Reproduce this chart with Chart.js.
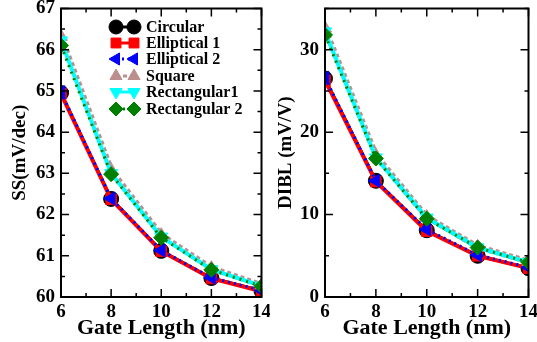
<!DOCTYPE html>
<html>
<head>
<meta charset="utf-8">
<script src="https://cdn.jsdelivr.net/npm/chart.js@4/dist/chart.umd.min.js"></script>
<style>
  html, body { margin: 0; padding: 0; background: #fff; }
  #wrap { position: relative; width: 537px; height: 342px; overflow: hidden; }
  .box { position: absolute; top: 0; height: 342px; }
  #boxL { left: 0; width: 270px; }
  #boxR { left: 270px; width: 267px; }
</style>
</head>
<body>
<div id="wrap">
  <div class="box" id="boxL"><canvas id="ssChart"></canvas></div>
  <div class="box" id="boxR"><canvas id="diblChart"></canvas></div>
</div>
<script>
// gate length (nm)
const gateLength = [6, 8, 10, 12, 14];

// subthreshold swing, mV/dec
const ssCircular = [64.95, 62.38, 61.12, 60.46, 60.15];
const ssElliptical1 = [64.93, 62.37, 61.11, 60.45, 60.14];
const ssElliptical2 = [64.97, 62.39, 61.13, 60.47, 60.16];
const ssSquare = [66.32, 63.08, 61.50, 60.70, 60.29];
const ssRect1 = [66.22, 63.00, 61.46, 60.67, 60.27];
const ssRect2 = [66.10, 62.98, 61.44, 60.66, 60.26];

// DIBL, mV/V
const diblCircular = [26.5, 14.1, 8.1, 5.0, 3.5];
const diblElliptical1 = [26.3, 14.0, 8.0, 5.0, 3.5];
const diblElliptical2 = [26.6, 14.1, 8.2, 5.1, 3.6];
const diblSquare = [32.6, 17.2, 9.7, 6.1, 4.3];
const diblRect1 = [32.2, 16.9, 9.6, 6.0, 4.2];
const diblRect2 = [31.8, 16.8, 9.5, 6.0, 4.2];

const seriesNames = ['Circular', 'Elliptical 1', 'Elliptical 2', 'Square', 'Rectangular1', 'Rectangular 2'];

const FONT = 'Liberation Serif, Times New Roman, serif';

const styles = [
  { color: '#000000', point: 'circle', rot: 0, width: 3, dash: [], order: 6 },
  { color: '#ff0000', point: 'rect', rot: 0, width: 4, dash: [], order: 5 },
  { color: '#0000ff', point: 'triangle', rot: -90, width: 3, dash: [2, 4], order: 4 },
  { color: '#bc8f8f', point: 'triangle', rot: 0, width: 6, dash: [4, 3], order: 3 },
  { color: '#00ffff', point: 'triangle', rot: 180, width: 4, dash: [], order: 2 },
  { color: '#008000', point: 'rectRot', rot: 0, width: 3, dash: [2, 5], order: 1 }
];

function makeDatasets(lists) {
  return lists.map((vals, i) => {
    const s = styles[i];
    return {
      label: seriesNames[i],
      data: gateLength.map((g, k) => ({ x: g, y: vals[k] })),
      borderColor: s.color,
      backgroundColor: s.color,
      borderWidth: s.width,
      borderDash: s.dash,
      pointStyle: s.point,
      pointRotation: s.rot,
      pointRadius: 7.5,
      pointBorderWidth: 1,
      pointBackgroundColor: s.color,
      pointBorderColor: s.color,
      tension: 0,
      order: s.order
    };
  });
}

// inward ticks on all four sides + frame
const frameTicks = {
  id: 'frameTicks',
  afterDraw(chart) {
    const { ctx, chartArea: a, scales } = chart;
    ctx.save();
    ctx.strokeStyle = '#000';
    ctx.lineWidth = 2;
    ctx.strokeRect(a.left, a.top, a.right - a.left, a.bottom - a.top);
    ctx.lineWidth = 1.5;
    scales.x.ticks.forEach(t => {
      const px = scales.x.getPixelForValue(t.value);
      const len = t.label !== '' ? 8 : 4;
      ctx.beginPath();
      ctx.moveTo(px, a.bottom); ctx.lineTo(px, a.bottom - len);
      ctx.moveTo(px, a.top); ctx.lineTo(px, a.top + len);
      ctx.stroke();
    });
    scales.y.ticks.forEach(t => {
      const py = scales.y.getPixelForValue(t.value);
      const len = t.label !== '' ? 8 : 4;
      ctx.beginPath();
      ctx.moveTo(a.left, py); ctx.lineTo(a.left + len, py);
      ctx.moveTo(a.right, py); ctx.lineTo(a.right - len, py);
      ctx.stroke();
    });
    ctx.restore();
  }
};

// legend drawn inside the left plot
const innerLegend = {
  id: 'innerLegend',
  afterDraw(chart) {
    const ctx = chart.ctx;
    const rows = [27, 43, 59, 76, 92, 109];
    ctx.save();
    chart.data.datasets.forEach((ds, i) => {
      const y = rows[i];
      const s = styles[i];
      ctx.strokeStyle = s.color;
      ctx.lineWidth = 3;
      ctx.setLineDash(s.dash);
      ctx.beginPath();
      ctx.moveTo(116, y); ctx.lineTo(134, y);
      ctx.stroke();
      ctx.setLineDash([]);
      [116, 134].forEach(px => {
        ctx.fillStyle = s.color;
        ctx.strokeStyle = s.color;
        ctx.lineWidth = 1;
        Chart.helpers.drawPoint(ctx, { pointStyle: s.point, rotation: s.rot, radius: 7, borderWidth: 1 }, px, y);
      });
      ctx.fillStyle = '#000';
      ctx.font = 'bold 16px ' + FONT;
      ctx.textBaseline = 'middle';
      ctx.fillText(ds.label, 146, y + 1);
    });
    ctx.restore();
  }
};

function makeOptions(yMin, yMax, yStep, yMajor, yTitle, yWidth, rightPad, titleShift) {
  return {
    responsive: true,
    maintainAspectRatio: false,
    animation: false,
    layout: { padding: { left: 0, right: rightPad, top: 5, bottom: 0 } },
    plugins: { legend: { display: false }, tooltip: { enabled: false } },
    scales: {
      x: {
        type: 'linear', min: 6, max: 14,
        grid: { display: false, drawTicks: false },
        border: { display: false },
        ticks: {
          stepSize: 1, autoSkip: false, maxRotation: 0, padding: 4,
          color: '#000', font: { family: FONT, size: 19, weight: 'bold' },
          callback: v => (v % 2 === 0 ? String(v) : '')
        },
        title: {
          display: true, text: 'Gate Length (nm)', color: '#000', padding: { top: 0, bottom: 0 },
          font: { family: FONT, size: 22, weight: 'bold' }
        },
        afterFit(scale) { scale.height = 45; scale.paddingLeft = 0; scale.paddingRight = 0; }
      },
      y: {
        min: yMin, max: yMax,
        grid: { display: false, drawTicks: false },
        border: { display: false },
        ticks: {
          stepSize: yStep, autoSkip: false, padding: 6,
          color: '#000', font: { family: FONT, size: 19, weight: 'bold' },
          callback: v => (Math.abs(v / yMajor - Math.round(v / yMajor)) < 1e-6 ? String(Math.round(v)) : '')
        },
        title: {
          display: true, text: yTitle, color: '#000', padding: { top: titleShift, bottom: 0 },
          font: { family: FONT, size: 19, weight: 'bold' }
        },
        afterFit(scale) { scale.width = yWidth; scale.paddingTop = 0; scale.paddingBottom = 0; }
      }
    }
  };
}

new Chart(document.getElementById('ssChart'), {
  type: 'line',
  data: { datasets: makeDatasets([ssCircular, ssElliptical1, ssElliptical2, ssSquare, ssRect1, ssRect2]) },
  options: makeOptions(60, 67, 0.5, 1, 'SS(mV/dec)', 61, 6, 9),
  plugins: [frameTicks, innerLegend]
});

new Chart(document.getElementById('diblChart'), {
  type: 'line',
  data: { datasets: makeDatasets([diblCircular, diblElliptical1, diblElliptical2, diblSquare, diblRect1, diblRect2]) },
  options: makeOptions(0, 35, 5, 10, 'DIBL (mV/V)', 55, 8, 5),
  plugins: [frameTicks]
});
</script>
</body>
</html>
